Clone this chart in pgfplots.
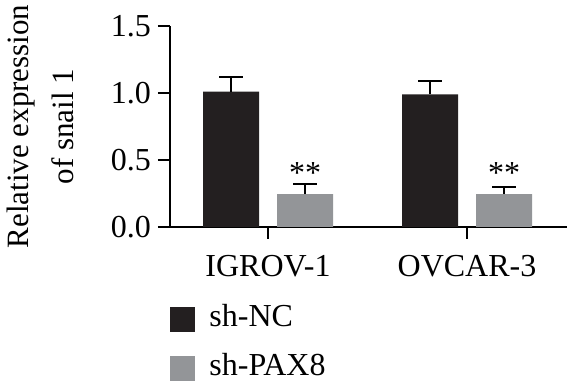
\documentclass[border=0pt]{standalone}
\usepackage{pgfplots}
\pgfplotsset{compat=1.18}
\usepackage{pgfplotstable}
\usepackage{fontspec}
\setmainfont{Liberation Serif}
\newcommand\fsz{\fontsize{16}{22.5}\selectfont}
\newcommand\lsz{\fontsize{15.5}{22.5}\selectfont}
\definecolor{barblack}{RGB}{35,31,32}
\definecolor{bargray}{RGB}{147,149,152}
\pgfplotstableread{
x y err
1 1.01 0.11
2 0.99 0.10
}\shnc
\pgfplotstableread{
x y err
1 0.245 0.075
2 0.245 0.055
}\shpax
\begin{document}
\begin{tikzpicture}
\begin{axis}[
  name=ax,
  scale only axis,
  width=198.5pt, height=100.5pt,
  xmin=0.5075, xmax=2.5025,
  ymin=0, ymax=1.5,
  axis lines*=left,
  axis line style={line width=1pt},
  tick style={line width=1pt, black},
  tick align=outside,
  major tick length=6pt,
  xtick={1,2}, xticklabels={IGROV-1,OVCAR-3},
  xticklabel style={yshift=-4.5pt},
  ytick={0,0.5,1,1.5},
  yticklabel style={/pgf/number format/.cd, fixed, fixed zerofill, precision=1, assume math mode=true},
  tick label style={font=\fsz},
  ybar, bar width=28pt,
  legend style={draw=none, fill=none, inner sep=0pt, font=\fsz,
    at={(rel axis cs:0,0)}, anchor=north west, yshift=-36.5pt, legend cell align=left,
    row sep=8pt, /tikz/every odd column/.style={column sep=5pt}},
  legend image code/.code={\path[#1, draw=none] (0pt,-7.25pt) rectangle (12.5pt,5.25pt);},
  error bars/error bar style={line width=1pt, black},
  error bars/error mark options={rotate=90, line width=1pt, black, mark size=6pt},
]
\addplot[fill=barblack, draw=none, bar shift=-18.5pt,
  error bars/.cd, y dir=plus, y explicit] table[x=x, y=y, y error=err] {\shnc};
\addlegendentry{sh-NC}
\addplot[fill=bargray, draw=none, bar shift=18.5pt,
  error bars/.cd, y dir=plus, y explicit] table[x=x, y=y, y error=err] {\shpax};
\addlegendentry{sh-PAX8}
\node[font=\fsz, anchor=base, xshift=18.5pt] at (axis cs:1,0.328) {**};
\node[font=\fsz, anchor=base, xshift=18.5pt] at (axis cs:2,0.328) {**};
\end{axis}
\node[rotate=90, anchor=south, align=center, font=\lsz, inner sep=0pt] at ([xshift=-48pt]ax.west) {Relative expression\\of snail 1};
\pgfresetboundingbox
\path[use as bounding box] ([xshift=-85pt,yshift=-78.5pt]ax.south west) rectangle ([yshift=13pt]ax.north east);
\end{tikzpicture}
\end{document}
